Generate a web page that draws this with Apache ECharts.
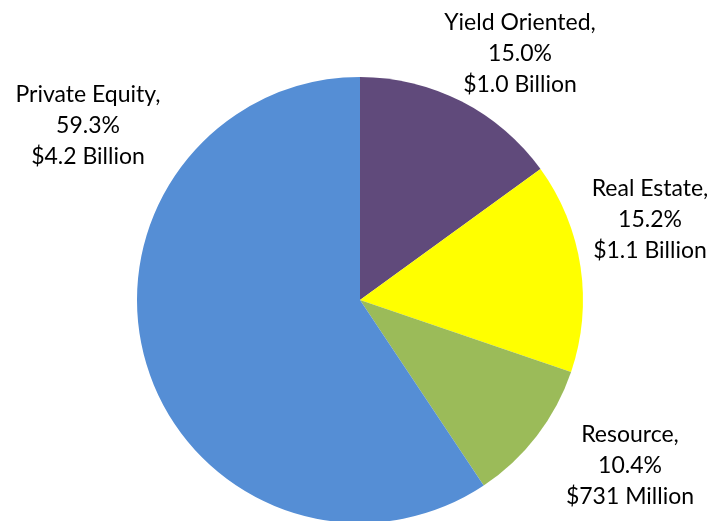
<!DOCTYPE html>
<html>
<head>
<meta charset="utf-8">
<script src="https://cdn.jsdelivr.net/npm/echarts@6/dist/echarts.min.js"></script>
<style>
  html, body { margin: 0; padding: 0; background: #fff; }
  #chart { width: 717px; height: 521px; }
</style>
</head>
<body>
<div id="chart"></div>
<script>
// slices, clockwise from 12 o'clock
const categories = ['Yield Oriented', 'Real Estate', 'Resource', 'Private Equity']
const shares = [15.0, 15.2, 10.4, 59.3]
const amounts = ['$1.0 Billion', '$1.1 Billion', '$731 Million', '$4.2 Billion']
const colors = ['#604a7b', '#ffff00', '#9bbb59', '#558ed5']

// label anchor points (centre of the text block)
const labelPos = [[520, 54], [650, 220], [630, 466], [88, 126]]

const chart = echarts.init(document.getElementById('chart'))

chart.setOption({
  animation: false,
  series: [{
    type: 'pie',
    center: [360, 300],
    radius: 223,
    startAngle: 90,
    clockwise: true,
    data: categories.map((name, i) => ({
      name: name,
      value: shares[i],
      itemStyle: { color: colors[i] }
    })),
    label: {
      show: true,
      position: 'outside',
      formatter: p => p.name + ',\n' + shares[p.dataIndex].toFixed(1) + '%\n' + amounts[p.dataIndex],
      fontFamily: 'Lato',
      fontSize: 23,
      lineHeight: 31,
      color: '#000',
      align: 'center',
      overflow: 'none'
    },
    labelLine: { show: false },
    labelLayout: p => ({
      x: labelPos[p.dataIndex][0],
      y: labelPos[p.dataIndex][1],
      align: 'center',
      verticalAlign: 'middle'
    }),
    emphasis: { disabled: true }
  }]
})
</script>
</body>
</html>
